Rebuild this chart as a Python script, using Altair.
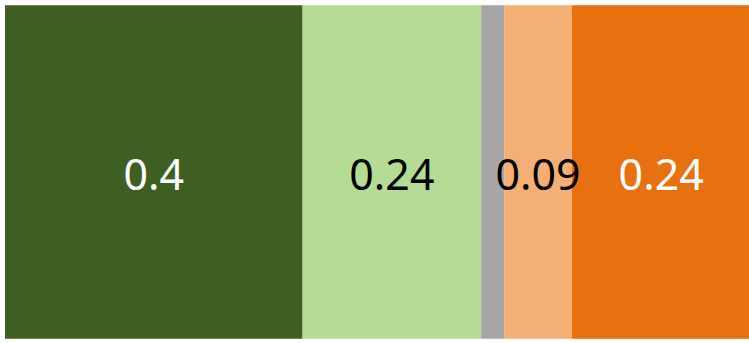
import altair as alt
import pandas as pd

categories = ["A", "B", "C", "D", "E"]
values = [0.40, 0.24, 0.031, 0.091, 0.24]
labels = ["0.4", "0.24", "", "0.09", "0.24"]
colors = ["#3F5F22", "#B6DB97", "#A6A6A6", "#F4AF74", "#E8700E"]
label_colors = ["white", "black", "black", "black", "white"]

df = pd.DataFrame({
    "cat": categories,
    "value": values,
    "label": labels,
    "order": list(range(len(categories))),
    "lc": label_colors,
})

base = alt.Chart(df).transform_window(
    cum="sum(value)", sort=[alt.SortField("order")], frame=[None, 0]
).transform_calculate(
    start="datum.cum - datum.value",
    mid="datum.cum - datum.value / 2",
    row="'r'",
)

xscale = alt.Scale(domain=[0, 1], nice=False, zero=False)
yscale = alt.Scale(paddingInner=0, paddingOuter=0)

bars = base.mark_bar(stroke=None).encode(
    x=alt.X("start:Q", scale=xscale, axis=None),
    x2="cum:Q",
    y=alt.Y("row:N", scale=yscale, axis=None),
    color=alt.Color("cat:N", scale=alt.Scale(domain=categories, range=colors), legend=None),
)

text = base.mark_text(font="Noto Sans", fontSize=43, baseline="middle", align="center", dy=5).encode(
    x=alt.X("mid:Q", scale=xscale, axis=None),
    y=alt.Y("row:N", scale=yscale, axis=None),
    text="label:N",
    color=alt.Color("lc:N", scale=None, legend=None),
)

chart = alt.layer(bars, text).properties(
    width=745, height=334,
    padding={"left": 5, "top": 5, "right": 0, "bottom": 4},
    autosize=alt.AutoSizeParams(type="none"),
    background="white",
).configure_view(stroke=None)

chart.save("out.html", embed_options={"renderer": "svg", "actions": False})
